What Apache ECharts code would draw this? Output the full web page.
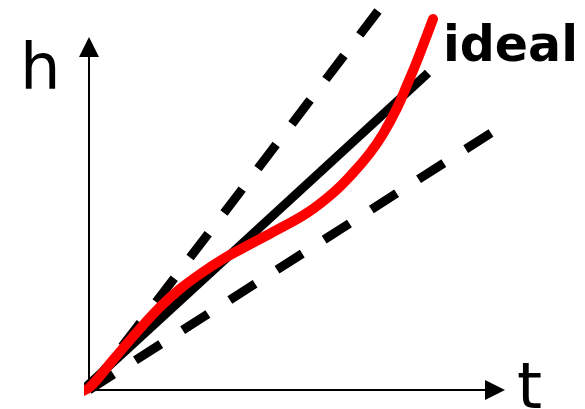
<!DOCTYPE html>
<html>
<head>
<meta charset="utf-8">
<script src="https://cdn.jsdelivr.net/npm/echarts@6/dist/echarts.min.js"></script>
<style>html,body{margin:0;padding:0;background:#fff}#c{width:585px;height:409px}</style>
</head>
<body>
<div id="c"></div>
<script>
// Sketch data (units: arbitrary time t / height h)
const idealLine = [[-4, 2], [339, 317]];
const upperBound = [[289, 379], [0, 0]];
const lowerBound = [[402, 257], [0, 0]];
const actualCurve = [
  [-9, -2], [1, 3], [24, 30], [48, 58], [71, 83], [91, 101], [114, 118],
  [134, 131], [154, 142], [184, 158], [218, 177], [244, 197], [264, 217],
  [281, 237], [294, 256], [308, 282], [318, 305], [328, 329], [338, 355], [344, 371]
];
const axisNames = { x: 't', y: 'h' };
const lineLabel = 'ideal';

const chart = echarts.init(document.getElementById('c'), null, { renderer: 'canvas' });
const hiddenParts = {
  axisLabel: { show: false }, axisTick: { show: false }, splitLine: { show: false }
};
chart.setOption({
  animation: false,
  grid: { left: 89, right: 90, top: 47, bottom: 19 },
  xAxis: Object.assign({
    type: 'value', min: 0, max: 406,
    axisLine: { show: true, lineStyle: { color: '#000', width: 2 },
      symbol: ['none', 'triangle'], symbolSize: [20, 20] }
  }, hiddenParts),
  yAxis: Object.assign({
    type: 'value', min: 0, max: 343,
    axisLine: { show: true, lineStyle: { color: '#000', width: 2 },
      symbol: ['none', 'triangle'], symbolSize: [20, 20] }
  }, hiddenParts),
  series: [
    { type: 'line', data: upperBound, symbol: 'none', clip: false,
      lineStyle: { color: '#000', width: 9, type: [30, 26], cap: 'butt' } },
    { type: 'line', data: lowerBound, symbol: 'none', clip: false,
      lineStyle: { color: '#000', width: 9, type: [30, 26], cap: 'butt' } },
    { type: 'line', data: idealLine, symbol: 'none', clip: false,
      lineStyle: { color: '#000', width: 9, cap: 'butt' } },
    { type: 'line', data: actualCurve, symbol: 'none', clip: false, smooth: 0.4,
      lineStyle: { color: '#ff0000', width: 10, cap: 'round', join: 'round' } }
  ],
  graphic: [
    { type: 'text', left: 20, top: 40, style: { text: axisNames.y, font: '64px "DejaVu Sans"', fill: '#000' } },
    { type: 'text', left: 517, top: 359, style: { text: axisNames.x, font: '64px "DejaVu Sans"', fill: '#000' } },
    { type: 'text', left: 443, top: 24, style: { text: lineLabel, font: 'bold 49px "DejaVu Sans"', fill: '#000' } }
  ]
});
</script>
</body>
</html>
